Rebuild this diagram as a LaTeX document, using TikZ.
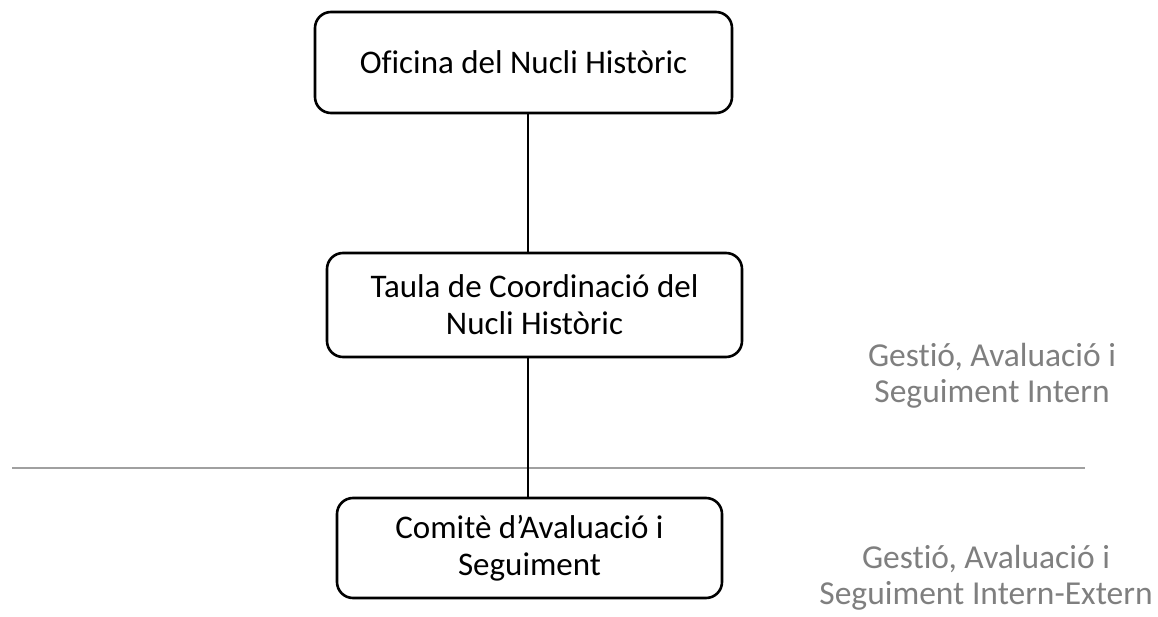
\documentclass[tikz,border=0pt]{standalone}
\usepackage{fontspec}
\setmainfont{Carlito}[Ligatures=CommonOff]
\usetikzlibrary{positioning}
\definecolor{lblgray}{HTML}{7F7F7F}
\definecolor{divgray}{HTML}{A0A0A0}
\tikzstyle{org} = [rectangle, draw, line width=2.6pt, rounded corners=16pt,
    align=center, font=\fontsize{33}{37}\selectfont, inner sep=0pt]
\tikzstyle{lvl} = [align=center, text=lblgray, font=\fontsize{33.5}{36}\selectfont]

\begin{document}
\begin{tikzpicture}[x=1pt,y=-1pt]
  \useasboundingbox (0,0) rectangle (1158,617);
  \node[org,minimum width=417pt,minimum height=101pt] (ofi) at (523.5,62.5) {Oficina del Nucli Històric};
  \node[org,minimum width=415pt,minimum height=104pt] (taula) at (534.5,305) {Taula de Coordinació del\\Nucli Històric};
  \node[org,minimum width=385pt,minimum height=100pt] (comite) at (529.5,548) {Comitè d’Avaluació i\\Seguiment};
  \node[lvl] (intern) at (992,376) {Gestió, Avaluació i\\Seguiment Intern};
  \node[lvl] (extern) at (986,578) {Gestió, Avaluació i\\Seguiment Intern-Extern};

  \coordinate (spine) at (528,0);
  \coordinate (divl) at (12,468);
  \coordinate (divr) at (1085,468);

  \draw[divgray,line width=2pt] (divl) -- (divr);
  \draw[line width=1.3pt] (ofi.south -| spine) -- (taula.north -| spine);
  \draw[line width=1.3pt] (taula.south -| spine) -- (comite.north -| spine);
\end{tikzpicture}
\end{document}
